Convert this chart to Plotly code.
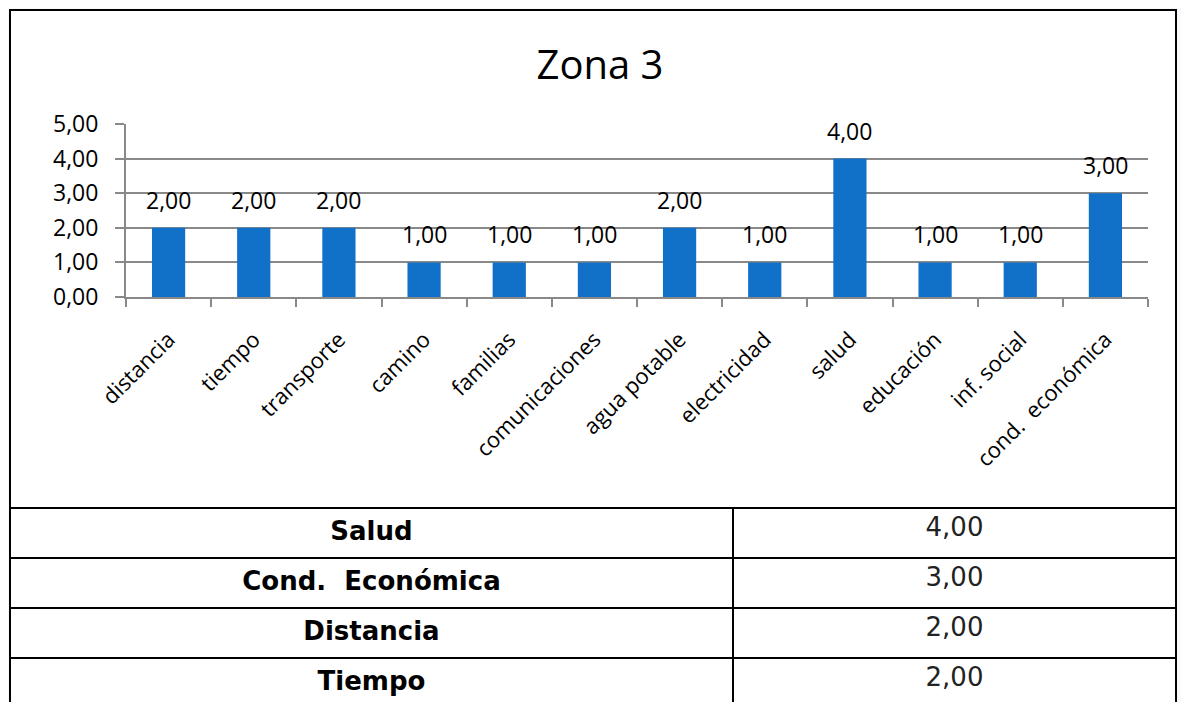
import plotly.graph_objects as go

# datos del gráfico
categorias = ["distancia", "tiempo", "transporte", "camino", "familias",
              "comunicaciones", "agua potable", "electricidad", "salud",
              "educación", "inf. social", "cond.\u00a0 económica"]
valores = [2, 2, 2, 1, 1, 1, 2, 1, 4, 1, 1, 3]

# tabla resumen
tabla_nombres = ["Salud", "Cond.\u00a0 Económica", "Distancia", "Tiempo"]
tabla_valores = [4, 3, 2, 2]

W, H = 1189, 702
OFF = 8  # margen del body de la página
gris = "#898989"
azul = "#1170c8"


def px_x(v):
    return (v - OFF) / W


def px_y(v):
    return (H - (v - OFF)) / H


fmt = lambda v: f"{v:.2f}".replace(".", ",")

fig = go.Figure()

fig.add_trace(go.Bar(
    x=categorias, y=valores,
    marker=dict(color=azul, line=dict(width=0)),
    width=0.39,
    showlegend=False,
))

# etiquetas de datos encima de las barras
etiquetas = [dict(x=c, y=v, text=fmt(v), showarrow=False, yanchor="middle",
                  yshift=28, font=dict(family="Open Sans", size=23, color="black"))
             for c, v in zip(categorias, valores)]

# tabla (primera fila como cabecera, mismo estilo)
nombres_b = [f"<b>{n}</b>" for n in tabla_nombres]
vals_s = [fmt(v) for v in tabla_valores]
estilo_font = dict(family="DejaVu Sans", size=26, color=["black", "#222222"])
fig.add_trace(go.Table(
    domain=dict(x=[px_x(10), px_x(1176)], y=[0, px_y(508)]),
    columnwidth=[723, 443],
    header=dict(values=[nombres_b[0], vals_s[0]], height=50,
                fill_color="white", line=dict(color="black", width=2),
                align="center", font=estilo_font),
    cells=dict(values=[nombres_b[1:], vals_s[1:]], height=50,
               fill_color="white", line=dict(color="black", width=2),
               align="center", font=estilo_font),
))

fig.update_layout(
    width=W, height=H,
    margin=dict(l=0, r=0, t=0, b=0),
    paper_bgcolor="#f7f9fd",
    plot_bgcolor="white",
    separators=",.",
    title=dict(text="Zona 3", x=px_x(600), y=px_y(65), xanchor="center",
               yanchor="middle", font=dict(family="Open Sans", size=40, color="black")),
    annotations=etiquetas,
    shapes=[dict(type="rect", xref="paper", yref="paper",
                 x0=px_x(10), x1=px_x(1176), y0=px_y(508), y1=px_y(10),
                 line=dict(color="black", width=2), fillcolor="white", layer="below")],
)

fig.update_xaxes(
    domain=[px_x(126), px_x(1148)],
    automargin=False,
    tickangle=-45, tickson="boundaries",
    ticks="outside", ticklen=8, tickwidth=2, tickcolor=gris,
    showline=True, linecolor=gris, linewidth=2,
    showgrid=False,
    tickfont=dict(family="Open Sans", size=22, color="black"),
    ticklabelstandoff=19,
)
fig.update_yaxes(
    domain=[px_y(297), px_y(124)],
    automargin=False,
    range=[0, 5], tickvals=[0, 1, 2, 3, 4, 5], tickformat=".2f",
    ticks="outside", ticklen=9, tickwidth=2, tickcolor=gris,
    showline=True, linecolor=gris, linewidth=2,
    showgrid=True, gridcolor=gris, gridwidth=2,
    zeroline=False,
    tickfont=dict(family="Open Sans", size=23, color="black"),
    ticklabelstandoff=12,
)

fig.write_html("out.html")
